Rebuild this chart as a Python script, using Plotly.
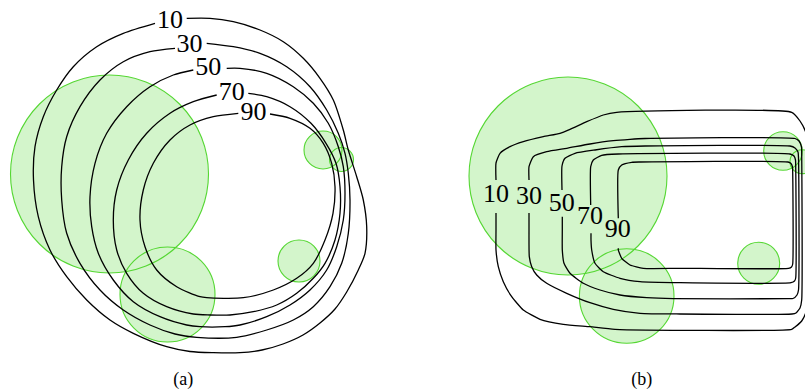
import plotly.graph_objects as go

# ---------------- data (pixel-space units of the figure) ----------------
# Panel (a): circles (cx, cy, r)
circ_a_x = [109.5, 167.5, 323.0, 341.5, 299.0]
circ_a_y = [174.0, 294.5, 150.0, 159.5, 261.0]
circ_a_r = [99.0, 47.5, 19.0, 12.0, 21.0]

# Panel (b): circles
circ_b_x = [568.0, 626.7, 758.7, 783.0, 802.0]
circ_b_y = [176.0, 296.0, 263.3, 151.0, 161.7]
circ_b_r = [99.0, 47.3, 21.0, 19.3, 12.0]

levels = ["10", "30", "50", "70", "90"]

# Panel (a) contour paths
a10_x = [155, 123.3, 96.7, 73.3, 56.7, 43.3, 35, 33.5, 38.3, 50, 66.7, 86.7, 110, 133.3, 166.7, 190, 213.3, 240, 262, 283, 303, 320, 335, 346.7, 358.3, 365, 366.7, 363.3, 356.7, 348.3, 343.3, 333.3, 320, 303.3, 283.3, 260, 233.3, 210, 186.7]
a10_y = [23.3, 33.3, 46.7, 66.7, 90, 116.7, 146.7, 180, 216.7, 250, 276.7, 300, 320, 333.3, 346.7, 351.5, 352.7, 352.7, 350, 344, 335, 323, 309, 292, 270, 253.3, 226.7, 200, 176.7, 150, 130, 100, 78.3, 58.3, 41.7, 30, 21.7, 18.3, 18.3]

a30_x = [175, 150, 123.3, 100, 80, 66.7, 61.7, 61.7, 66.7, 80, 100, 123.3, 150, 175, 196.7, 236.7, 266.7, 293.3, 313.3, 330, 341.7, 348.3, 350, 348.3, 345, 338.3, 326.7, 310, 286.7, 260, 233.3, 206.7]
a30_y = [48.3, 51.7, 61.7, 80, 106.7, 136.7, 166.7, 200, 233.3, 263.3, 290, 310, 325, 334, 337.3, 337.3, 330, 320, 306.7, 286.7, 263.3, 233.3, 200, 173.3, 153.3, 133.3, 110, 86.7, 66.7, 53.3, 46.7, 43.3]

a50_x = [193.3, 173.3, 150, 126.7, 106.7, 95, 90, 91.7, 98.3, 113.3, 133.3, 160, 186.7, 200, 225, 240, 266.7, 290, 310, 326.7, 336.7, 343.3, 345, 343.3, 338.3, 328.3, 313.3, 293.3, 266.7, 240, 226.7]
a50_y = [70, 75, 86.7, 106.7, 133.3, 163.3, 196.7, 226.7, 253.3, 280, 301.7, 316.7, 325, 326.7, 326.7, 325, 316.7, 305, 290, 270, 246.7, 220, 193.3, 166.7, 146.7, 123.3, 103.3, 86.7, 73.3, 68.3, 68.3]

a70_x = [216.7, 193.3, 170, 146.7, 128.3, 116.7, 113.3, 116.7, 126.7, 143.3, 166.7, 193.3, 210, 230, 253.3, 276.7, 296.7, 313.3, 325, 335, 340, 340, 336, 326, 311, 290, 266.7, 248.3]
a70_y = [95, 101.7, 113.3, 133.3, 160, 190, 220, 250, 273.3, 293.3, 306.7, 314, 315, 315, 311.7, 305, 293.3, 278.3, 263.3, 240, 213.3, 186.7, 163.3, 143.3, 123.3, 106.7, 96.7, 93.3]

a90_x = [238.3, 213.3, 190, 170, 153.3, 143.3, 140, 145, 156.7, 176.7, 200, 206.7, 243.3, 273.3, 296.7, 313.3, 325, 333, 335, 331.7, 323.3, 310, 290, 270]
a90_y = [113.3, 116.7, 125, 140, 163.3, 190, 220, 246.7, 270, 286.7, 296.7, 297.7, 297.7, 290, 278.3, 263.3, 240, 213.3, 186.7, 163.3, 143.3, 128.3, 118.3, 114]

# Panel (b) contour paths
b10_x = [496, 496, 500, 510, 523.3, 543.3, 560, 570, 586.7, 603.3, 616.7, 791.7, 800, 806, 809, 809, 806, 801.7, 795, 791.7, 615, 590, 563.3, 540, 523.3, 511.7, 503.3, 498.3, 496, 496, 496]
b10_y = [180, 163, 153.3, 146.7, 141.7, 136.7, 133.3, 129.3, 121.7, 115, 112.3, 112.3, 121, 133, 150, 295, 312, 321, 327, 329.3, 329.3, 326.7, 324.3, 319.3, 310, 296.7, 281.7, 266.7, 250, 230, 213]

b30_x = [529, 529, 533.3, 546.7, 566.7, 590, 613.3, 630, 645, 795, 799, 801.5, 801.7, 801.7, 800, 796, 792, 680, 640, 613.3, 590, 566.7, 546.7, 536.7, 531.7, 529.3, 529, 529]
b30_y = [180, 166.7, 156.7, 151.7, 148.3, 144, 140.7, 139.3, 138.5, 138.5, 141, 147, 155, 300, 308, 313, 314, 314, 313.3, 309.3, 302.7, 293.3, 283.3, 275, 266.7, 256.7, 230, 213]

b50_x = [562, 562, 565, 575, 595, 621.7, 645, 790, 795, 798, 798.5, 798.5, 797, 793, 788, 673.3, 646.7, 620, 600, 583.3, 570, 564, 562.3, 562.3, 562.3]
b50_y = [190, 166, 158.3, 153.3, 150, 146.7, 146, 146, 148, 152, 158, 290, 295, 298.5, 298.7, 298.7, 297.7, 295, 290, 283.3, 273.3, 263.3, 250, 230, 216.7]

b70_x = [590.7, 590.7, 593.3, 601.7, 618.3, 790, 794, 795.5, 795.7, 795.7, 794.5, 791, 680, 640, 620, 603.3, 595, 591.7, 591, 591]
b70_y = [205, 166.7, 160, 155.3, 154, 154, 156, 160, 166, 278, 281, 282.7, 282.7, 281.7, 278.3, 271.7, 263.3, 250, 240, 233.3]

b90_x = [618.3, 618.3, 621.7, 631.7, 640, 788, 791, 792.5, 792.7, 792.7, 791.5, 788.5, 680, 643.3, 630, 621.7, 618.3, 618.3]
b90_y = [218.3, 170, 165, 162.3, 162, 162, 163.5, 167, 172, 264, 267, 268.3, 268.3, 268.3, 265, 258.3, 250, 248.3]

# Label positions
lab_a_x = [170, 189.5, 208.3, 231.7, 253.5]
lab_a_y = [21.7, 45, 68.3, 93.3, 113.5]
lab_b_x = [496, 529, 561.7, 590, 617.7]
lab_b_y = [195, 197.3, 204, 217.3, 230]

captions = ["(a)", "(b)"]
cap_x = [183.3, 641.7]
cap_y = [380, 380]

# ---------------- figure ----------------
W, H = 805, 391
FILL = "#d3f5cb"
EDGE = "#55d733"

fig = go.Figure()

shapes = []
all_cx = circ_a_x + circ_b_x
all_cy = circ_a_y + circ_b_y
all_r = circ_a_r + circ_b_r
for cx, cy, r in zip(all_cx, all_cy, all_r):
    shapes.append(dict(type="circle", xref="x", yref="y", x0=cx - r, x1=cx + r,
                       y0=cy - r, y1=cy + r, fillcolor=FILL, line=dict(width=0),
                       layer="below"))
for cx, cy, r in zip(all_cx, all_cy, all_r):
    shapes.append(dict(type="circle", xref="x", yref="y", x0=cx - r, x1=cx + r,
                       y0=cy - r, y1=cy + r, fillcolor="rgba(0,0,0,0)",
                       line=dict(width=1.1, color=EDGE), layer="below"))

paths_a = [(a10_x, a10_y), (a30_x, a30_y), (a50_x, a50_y), (a70_x, a70_y), (a90_x, a90_y)]
paths_b = [(b10_x, b10_y), (b30_x, b30_y), (b50_x, b50_y), (b70_x, b70_y), (b90_x, b90_y)]

for px, py in paths_a:
    fig.add_trace(go.Scatter(x=px, y=py, mode="lines",
                             line=dict(color="black", width=1.3, shape="spline", smoothing=0.8),
                             hoverinfo="skip", showlegend=False))
for px, py in paths_b:
    fig.add_trace(go.Scatter(x=px, y=py, mode="lines",
                             line=dict(color="black", width=1.3, shape="spline", smoothing=0.5),
                             hoverinfo="skip", showlegend=False))

font_lab = dict(family="Liberation Serif", size=26, color="black")
fig.add_trace(go.Scatter(x=lab_a_x, y=lab_a_y, mode="text", text=levels,
                         textfont=font_lab, textposition="middle center",
                         hoverinfo="skip", showlegend=False))
fig.add_trace(go.Scatter(x=lab_b_x, y=lab_b_y, mode="text", text=levels,
                         textfont=font_lab, textposition="middle center",
                         hoverinfo="skip", showlegend=False))
fig.add_trace(go.Scatter(x=cap_x, y=cap_y, mode="text", text=captions,
                         textfont=dict(family="Liberation Serif", size=18, color="black"),
                         textposition="middle center", hoverinfo="skip", showlegend=False))

fig.update_layout(
    width=W, height=H, margin=dict(l=0, r=0, t=0, b=0),
    paper_bgcolor="white", plot_bgcolor="white",
    shapes=shapes,
    xaxis=dict(range=[0, W], visible=False, fixedrange=True),
    yaxis=dict(range=[H, 0], visible=False, fixedrange=True),
)

fig.write_html("out.html")
